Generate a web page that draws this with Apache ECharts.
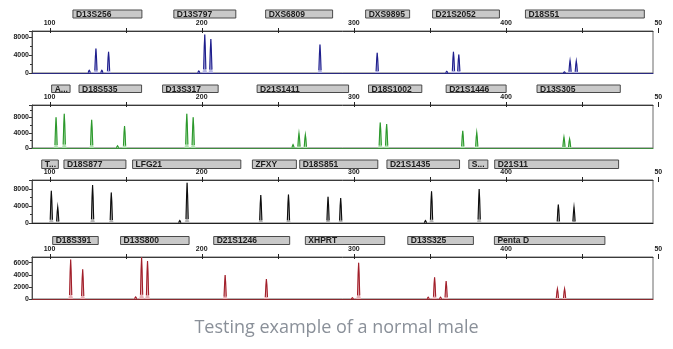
<!DOCTYPE html>
<html>
<head>
<meta charset="utf-8">
<script src="https://cdn.jsdelivr.net/npm/echarts@6/dist/echarts.min.js"></script>
<style>
  html, body { margin: 0; padding: 0; background: #fff; }
  #chart { width: 673px; height: 349px; }
</style>
</head>
<body>
<div id="chart"></div>
<script>
// Fragment size scale (bp) shared by all four dye panels
const bpMin = 88.5;
const bpMax = 496.5;
const bpTicks = [100, 150, 200, 250, 300, 350, 400, 450, 500];
const bpLabelValues = [100, 200, 300, 400];
const bpLabelText = ['100', '200', '300', '400'];
const bpEndLabel = [[500, '50']];

// Locus bins: [start bp, end bp, locus name]
const blueLoci = [
  [115.4, 160.7, 'D13S256'], [181.7, 222.4, 'D13S797'], [242, 286, 'DXS6809'],
  [307.7, 336.6, 'DXS9895'], [351.7, 395.6, 'D21S2052'], [412.7, 490.8, 'D18S51']
];
const greenLoci = [
  [101.4, 113.5, 'A...'], [119.4, 160.5, 'D18S535'], [174.3, 210.8, 'D13S317'],
  [236.4, 296.5, 'D21S1411'], [309.6, 344.6, 'D18S1002'], [360.6, 400, 'D21S1446'],
  [420.3, 475, 'D13S305']
];
const blackLoci = [
  [94.9, 105.8, 'T...'], [109.5, 150.2, 'D18S877'], [154.6, 225.7, 'LFG21'],
  [233.3, 262.2, 'ZFXY'], [264.4, 315.7, 'D18S851'], [321.7, 369.4, 'D21S1435'],
  [375.5, 388, 'S...'], [392.5, 473.9, 'D21S11']
];
const redLoci = [
  [102.1, 132, 'D18S391'], [146.7, 191.7, 'D13S800'], [207.9, 257.8, 'D21S1246'],
  [268.1, 320.2, 'XHPRT'], [335.4, 378.5, 'D13S325'], [392.3, 464.9, 'Penta D']
];

// Allele peaks: [size bp, height RFU]
const bluePeaks = [
  [126.1, 600], [130.5, 5400], [134.4, 600], [138.8, 4700],
  [198.1, 450], [202.0, 8500], [206.0, 7500],
  [277.7, 6300], [315.3, 4500],
  [361.0, 400], [365.4, 4700], [368.9, 4100],
  [438.3, 250], [442.0, 2800], [446.1, 2700]
];
const greenPeaks = [
  [104.3, 8100], [109.7, 9000], [127.7, 7400], [144.7, 600], [149.3, 5800],
  [190.2, 9000], [194.4, 8100],
  [260.0, 900], [263.9, 3900], [268.1, 3500],
  [317.3, 6700], [321.5, 6300],
  [371.5, 4500], [380.7, 4100],
  [438.0, 2900], [441.7, 2400]
];
const blackPeaks = [
  [101.2, 7600], [105.4, 3800], [128.3, 8950], [140.6, 7200],
  [185.6, 600], [190.4, 9500],
  [238.8, 6600], [257.0, 6700], [283.0, 6200], [291.3, 5900],
  [347.0, 600], [351.0, 7500], [382.3, 8000],
  [434.3, 4350], [444.6, 3800]
];
const redPeaks = [
  [113.9, 6550], [121.8, 4900], [156.6, 350], [160.5, 6900], [164.4, 6300],
  [215.4, 3950], [242.5, 3300],
  [299.0, 200], [303.1, 6000],
  [348.8, 300], [353.0, 3600], [356.9, 300], [360.6, 2950],
  [433.7, 1700], [438.4, 1700]
];

// RFU axis ranges per panel
const yMaxes = [9300, 11300, 10140, 6950];
const yIntervals = [4000, 4000, 4000, 2000];

const panels = [
  { loci: blueLoci,  peaks: bluePeaks,  core: '#1e1e8c', halo: '#b4b4e2', base: '#2a2a80',
    markTop: 10, markH: 8, top: 31, bottom: 73, minor: true },
  { loci: greenLoci, peaks: greenPeaks, core: '#2c982c', halo: '#b2e2b2', base: '#3f8c3f',
    markTop: 85, markH: 7.5, top: 105, bottom: 148, minor: true },
  { loci: blackLoci, peaks: blackPeaks, core: '#0d0d0d', halo: '#b4b4b4', base: '#222',
    markTop: 160, markH: 8.5, top: 180, bottom: 223, minor: true },
  { loci: redLoci,   peaks: redPeaks,   core: '#a11f2a', halo: '#e8b4b8', base: '#8a2a2e',
    markTop: 236.5, markH: 8, top: 257, bottom: 299, minor: false }
];

const gridLeft = 32;
const gridRight = 20;
const labelFont = 'Liberation Sans, Arial, sans-serif';

function peakRenderer(core, halo) {
  return function (params, api) {
    const b = api.coord([api.value(0), 0]);
    const t = api.coord([api.value(0), api.value(1)]);
    const x = b[0], yb = b[1], yt = t[1], h = yb - yt;
    const pts = [
      [x - 2.2, yb], [x - 1.1, yb - 0.1 * h], [x - 0.5, yb - 0.7 * h], [x, yt],
      [x + 0.5, yb - 0.7 * h], [x + 1.1, yb - 0.1 * h], [x + 2.2, yb]
    ];
    return {
      type: 'group',
      children: [
        { type: 'polygon', shape: { points: pts }, style: { fill: halo, stroke: halo, lineWidth: 0.6 } },
        { type: 'polyline', shape: { points: pts.slice(1, 6) }, style: { fill: null, stroke: core, lineWidth: 1.1 } }
      ]
    };
  };
}

// size-scale tick marks crossing the top edge of the trace
function tickRenderer(yTop) {
  return function (params, api) {
    const p = api.coord([api.value(0), yTop]);
    const x = Math.round(p[0]) + 0.5;
    return { type: 'line', shape: { x1: x, y1: p[1] - 3, x2: x, y2: p[1] + 2 },
             style: { stroke: '#222', lineWidth: 1 } };
  };
}

// clipped label at the right end of the size scale
function endLabelRenderer(yTop) {
  return function (params, api) {
    const p = api.coord([api.value(0), yTop]);
    return { type: 'text', x: p[0], y: p[1] - 4,
             style: { text: api.value(1), fill: '#222', font: 'bold 7px ' + labelFont,
                      textAlign: 'center', textVerticalAlign: 'bottom' } };
  };
}

function locusRenderer(params, api) {
  const a = api.coord([api.value(0), 1]);
  const b = api.coord([api.value(1), 0]);
  return {
    type: 'group',
    children: [
      { type: 'rect', shape: { x: a[0], y: a[1], width: b[0] - a[0], height: b[1] - a[1] },
        style: { fill: '#c9c9c9', stroke: '#4a4a4a', lineWidth: 1 } },
      { type: 'text', x: a[0] + 3, y: (a[1] + b[1]) / 2 + 0.5,
        style: { text: api.value(2), fill: '#1c1c1c', font: 'bold 8.5px ' + labelFont,
                 textAlign: 'left', textVerticalAlign: 'middle' } }
    ]
  };
}

const grid = [], xAxis = [], yAxis = [], series = [];

panels.forEach((p, i) => {
  const gMark = grid.length;
  grid.push({ left: gridLeft, right: gridRight, top: p.markTop, height: p.markH });
  const gPlot = grid.length;
  // plot frame: top edge, left edge and the grey right edge
  grid.push({ left: gridLeft, right: gridRight, top: p.top, height: p.bottom - p.top,
              show: true, borderColor: '#6a6a6a', borderWidth: 1, backgroundColor: 'transparent' });

  // locus bin strip
  const xMark = xAxis.length;
  xAxis.push({ type: 'value', gridIndex: gMark, min: bpMin, max: bpMax, show: false });
  const yMark = yAxis.length;
  yAxis.push({ type: 'value', gridIndex: gMark, min: 0, max: 1, show: false });
  series.push({
    type: 'custom', xAxisIndex: xMark, yAxisIndex: yMark, clip: false, silent: true,
    renderItem: locusRenderer, data: p.loci
  });

  // size scale on top of the trace
  const xTop = xAxis.length;
  xAxis.push({
    type: 'value', gridIndex: gPlot, position: 'top', min: bpMin, max: bpMax,
    axisLine: { show: true, onZero: false, lineStyle: { color: '#3a3a3a', width: 1 } },
    axisTick: { show: false },
    axisLabel: {
      customValues: bpLabelValues, margin: 4, fontSize: 7, fontWeight: 'bold',
      fontFamily: labelFont, color: '#222',
      formatter: v => bpLabelText[bpLabelValues.indexOf(v)] ?? ''
    },
    splitLine: { show: false }
  });
  // trace baseline
  xAxis.push({
    type: 'value', gridIndex: gPlot, position: 'bottom', min: bpMin, max: bpMax,
    axisLine: { show: true, onZero: false, lineStyle: { color: p.base, width: 1.2 } },
    axisTick: { show: false }, axisLabel: { show: false }, splitLine: { show: false }
  });
  const yPlot = yAxis.length;
  yAxis.push({
    type: 'value', gridIndex: gPlot, min: 0, max: yMaxes[i], interval: yIntervals[i],
    axisLine: { show: true, lineStyle: { color: '#4d4d4d' } },
    axisTick: { show: true, length: 3, lineStyle: { color: '#333' } },
    minorTick: { show: p.minor, splitNumber: 2, length: 2, lineStyle: { color: '#333' } },
    axisLabel: { margin: 3, fontSize: 7, fontWeight: 'bold', fontFamily: labelFont, color: '#222',
                 showMaxLabel: false, formatter: v => String(v) },
    splitLine: { show: false }
  });
  series.push({
    type: 'custom', xAxisIndex: xTop, yAxisIndex: yPlot, clip: true, silent: true,
    renderItem: peakRenderer(p.core, p.halo), data: p.peaks
  });
  series.push({
    type: 'custom', xAxisIndex: xTop, yAxisIndex: yPlot, clip: false, silent: true,
    renderItem: tickRenderer(yMaxes[i]), data: bpTicks.map(v => [v])
  });
  series.push({
    type: 'custom', xAxisIndex: xTop, yAxisIndex: yPlot, clip: false, silent: true,
    renderItem: endLabelRenderer(yMaxes[i]), data: bpEndLabel
  });
});

const chart = echarts.init(document.getElementById('chart'), null, { renderer: 'canvas' });
chart.setOption({
  animation: false,
  backgroundColor: '#fff',
  title: {
    text: 'Testing example of a normal male',
    left: 'center', top: 314,
    textStyle: { fontFamily: 'Open Sans', fontSize: 18, fontWeight: 'normal', color: '#8a9099' }
  },
  grid, xAxis, yAxis, series
});
</script>
</body>
</html>
